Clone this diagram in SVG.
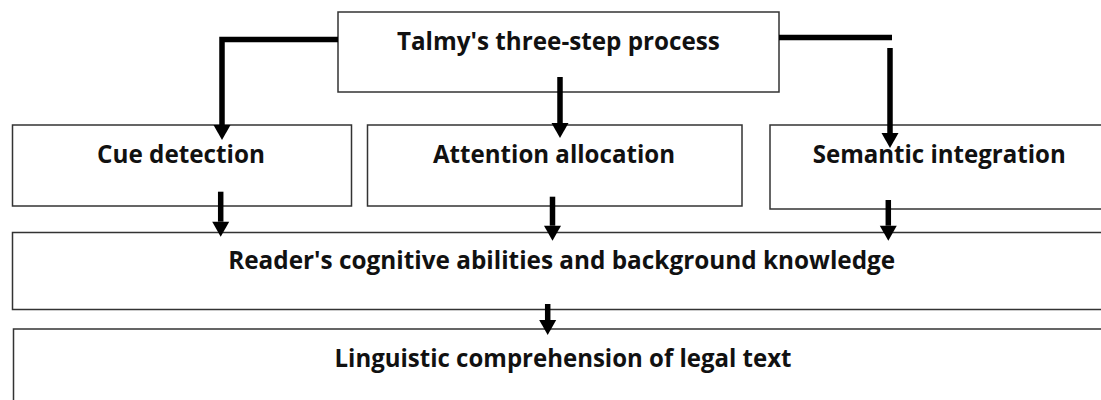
<svg xmlns="http://www.w3.org/2000/svg" width="1101" height="400" viewBox="0 0 1101 400">
<style>
.box{fill:#fff;stroke:#333;stroke-width:1.5}
.lbl{font-family:"Open Sans","Noto Sans","Liberation Sans",sans-serif;font-weight:bold;font-size:25px;fill:#111;text-anchor:middle}
.con{fill:none;stroke:#000;stroke-width:5.5;stroke-linejoin:miter}
</style>
<defs>
<marker id="ah" markerUnits="userSpaceOnUse" markerWidth="16" markerHeight="18" refX="0" refY="8.5" orient="auto" overflow="visible">
<path d="M0,0 L15,8.5 L0,17 z" fill="#000"/>
</marker>
</defs>
<rect width="1101" height="400" fill="#fff"/>
<g id="talmy">
<rect class="box" x="338" y="12" width="441" height="80"/>
<text class="lbl" x="558.4" y="50" textLength="323" lengthAdjust="spacingAndGlyphs">Talmy's three-step process</text>
</g>
<g id="cue">
<rect class="box" x="12.5" y="125" width="339" height="81"/>
<text class="lbl" x="181" y="163" textLength="168" lengthAdjust="spacingAndGlyphs">Cue detection</text>
</g>
<g id="attention">
<rect class="box" x="367.5" y="125" width="374.5" height="81"/>
<text class="lbl" x="554" y="163" textLength="242" lengthAdjust="spacingAndGlyphs">Attention allocation</text>
</g>
<g id="semantic">
<rect class="box" x="770" y="125" width="345" height="84"/>
<text class="lbl" x="939.2" y="163" textLength="253" lengthAdjust="spacingAndGlyphs">Semantic integration</text>
</g>
<g id="reader">
<rect class="box" x="12.5" y="232.5" width="1100" height="77"/>
<text class="lbl" x="561.7" y="269" textLength="667" lengthAdjust="spacingAndGlyphs">Reader's cognitive abilities and background knowledge</text>
</g>
<g id="linguistic">
<rect class="box" x="13.5" y="329" width="1100" height="90"/>
<text class="lbl" x="563" y="367" textLength="457" lengthAdjust="spacingAndGlyphs">Linguistic comprehension of legal text</text>
</g>
<g id="connectors">
<path class="con" d="M338,39.5 H222 V125" marker-end="url(#ah)"/>
<path class="con" d="M560,77 V123" marker-end="url(#ah)"/>
<path class="con" d="M779,37.5 H892"/>
<path class="con" d="M890,48 V133" marker-end="url(#ah)"/>
<path class="con" d="M220.7,191.7 V221.7" marker-end="url(#ah)"/>
<path class="con" d="M552.5,196.7 V225.7" marker-end="url(#ah)"/>
<path class="con" d="M888.3,200 V225.7" marker-end="url(#ah)"/>
<path class="con" d="M547.7,304 V320" marker-end="url(#ah)"/>
</g>
</svg>
